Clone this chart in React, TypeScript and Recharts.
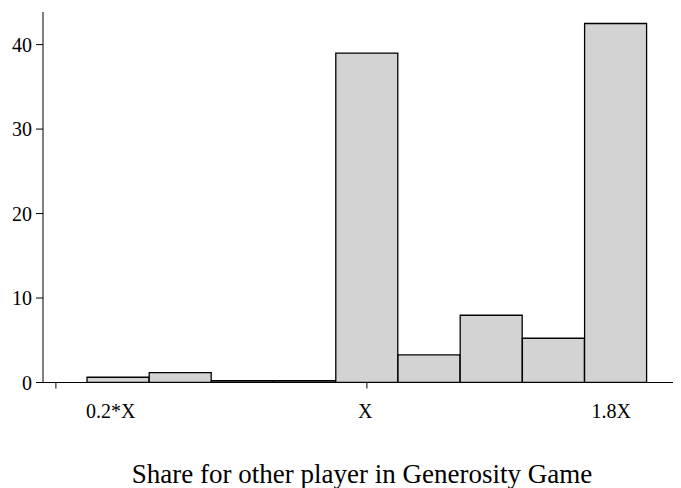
import React from 'react';
import { BarChart, Bar, XAxis, YAxis, Label } from 'recharts';

// bin centres (share as multiple of X) and percent of players in each bin
const binCenters = [0.2, 0.4, 0.6, 0.8, 1.0, 1.2, 1.4, 1.6, 1.8];
const percents = [0.62, 1.16, 0.21, 0.21, 39.0, 3.26, 7.96, 5.24, 42.5];

const yTicks = [0, 10, 20, 30, 40];
const xTickMarks = [0, 1, 2];
// label positions (they sit slightly left of the bins)
const xTickLabels = [
  { value: 0.176, label: '0.2*X' },
  { value: 0.995, label: 'X' },
  { value: 1.786, label: '1.8X' },
];

const xTitle = 'Share for other player in Generosity Game';

const FONT = '"Liberation Serif", "Times New Roman", serif';

const data = binCenters.map((x, i) => ({ x, pct: percents[i] }));

const allXTicks = Array.from(
  new Set([...xTickMarks, ...xTickLabels.map(t => t.value)])
).sort((a, b) => a - b);

// draws a small tick line for the mark values and a label for the labelled ones
const XTick = (props: any) => {
  const { x, y, payload } = props;
  const v = payload.value;
  const hasMark = xTickMarks.some(m => Math.abs(m - v) < 1e-6);
  const lab = xTickLabels.find(t => Math.abs(t.value - v) < 1e-6);
  return (
    <g>
      {hasMark && <line x1={x} x2={x} y1={y} y2={y + 6} stroke="#000" strokeWidth={1} />}
      {lab && (
        <text x={x} y={y + 35} textAnchor="middle" fontFamily={FONT} fontSize={20} fill="#000">
          {lab.label}
        </text>
      )}
    </g>
  );
};

export default function App() {
  return (
    <div style={{ width: 673, height: 480 }}>
      <BarChart
        width={673}
        height={480}
        data={data}
        margin={{ top: 4, right: 0, bottom: 0, left: 0 }}
        barCategoryGap={0}
        barGap={0}
      >
        <XAxis
          dataKey="x"
          type="number"
          domain={[-0.0415, 2.01]}
          allowDataOverflow
          ticks={allXTicks}
          interval={0}
          tick={<XTick />}
          tickLine={false}
          tickSize={0}
          tickMargin={0}
          height={105.5}
          axisLine={{ stroke: '#000', strokeWidth: 1 }}
        >
          <Label
            value={xTitle}
            position="insideBottom"
            offset={5}
            style={{ fontFamily: FONT, fontSize: 27, fill: '#000' }}
          />
        </XAxis>
        <YAxis
          type="number"
          domain={[0, 43.86]}
          allowDataOverflow
          ticks={yTicks}
          interval={0}
          width={35}
          tickSize={7}
          tickMargin={4}
          tick={{ fontFamily: FONT, fontSize: 20, fill: '#000' }}
          tickLine={{ stroke: '#000', strokeWidth: 1 }}
          axisLine={{ stroke: '#000', strokeWidth: 1 }}
        />
        <Bar
          dataKey="pct"
          fill="#d3d3d3"
          stroke="#000"
          strokeWidth={1.3}
          isAnimationActive={false}
        />
      </BarChart>
    </div>
  );
}
